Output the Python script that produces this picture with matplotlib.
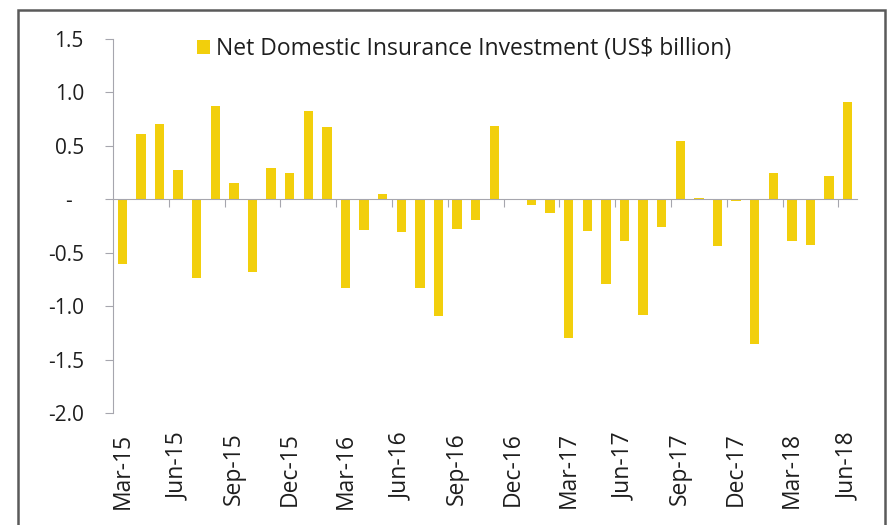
import matplotlib
matplotlib.use("Agg")
import matplotlib.pyplot as plt
from matplotlib.patches import Rectangle
import numpy as np

plt.rcParams['font.family'] = ['Open Sans', 'DejaVu Sans']

# monthly net domestic insurance investment, Mar-15 .. Jun-18
months = ['Mar-15', 'Apr-15', 'May-15', 'Jun-15', 'Jul-15', 'Aug-15', 'Sep-15', 'Oct-15',
          'Nov-15', 'Dec-15', 'Jan-16', 'Feb-16', 'Mar-16', 'Apr-16', 'May-16', 'Jun-16',
          'Jul-16', 'Aug-16', 'Sep-16', 'Oct-16', 'Nov-16', 'Dec-16', 'Jan-17', 'Feb-17',
          'Mar-17', 'Apr-17', 'May-17', 'Jun-17', 'Jul-17', 'Aug-17', 'Sep-17', 'Oct-17',
          'Nov-17', 'Dec-17', 'Jan-18', 'Feb-18', 'Mar-18', 'Apr-18', 'May-18', 'Jun-18']
investment = [-0.61, 0.61, 0.70, 0.27, -0.74, 0.87, 0.15, -0.68,
              0.29, 0.25, 0.83, 0.68, -0.83, -0.29, 0.05, -0.31,
              -0.83, -1.09, -0.28, -0.19, 0.69, 0.0, -0.05, -0.13,
              -1.30, -0.30, -0.79, -0.39, -1.08, -0.26, 0.55, 0.01,
              -0.44, -0.02, -1.35, 0.25, -0.39, -0.43, 0.22, 0.91]
yticks = [1.5, 1.0, 0.5, 0.0, -0.5, -1.0, -1.5, -2.0]
ytick_labels = ['1.5', '1.0', '0.5', '-  ', '-0.5', '-1.0', '-1.5', '-2.0']

bar_color = '#F2CF0C'
axis_color = '#A6A6AE'
text_color = '#1E1E1E'

W, H = 892, 525
fig = plt.figure(figsize=(W / 100, H / 100), dpi=100)
ax = fig.add_axes([113 / W, 1 - 413 / H, (857 - 113) / W, (413 - 39) / H])

x = np.arange(len(months))
bars = ax.bar(x, investment, width=0.5, color=bar_color,
              label='Net Domestic Insurance Investment (US$ billion)')

ax.set_xlim(-0.5, len(months) - 0.5)
ax.set_ylim(-2.0, 1.5)

for side in ['top', 'right']:
    ax.spines[side].set_visible(False)
ax.spines['left'].set_color(axis_color)
ax.spines['bottom'].set_color(axis_color)
ax.spines['bottom'].set_position(('data', 0))

# tick marks between every third category, on the zero line
ax.set_xticks(np.arange(2.5, len(months) - 1, 3))
ax.tick_params(axis='x', length=6, color=axis_color, labelbottom=False)

ax.set_yticks(yticks)
ax.set_yticklabels(ytick_labels)
ax.tick_params(axis='y', length=6, color=axis_color, labelsize=15,
               labelcolor=text_color, pad=15)

# month labels along the bottom edge
sec = ax.secondary_xaxis(0)
sec.set_xticks(x[::3])
sec.set_xticklabels(months[::3], rotation=90)
sec.spines['bottom'].set_visible(False)
sec.tick_params(length=0, pad=14, labelsize=16.5, labelcolor=text_color)

fig.legend(handles=[bars], loc='center left', bbox_to_anchor=(197 / W, 1 - 49 / H),
           frameon=False, fontsize=16.5, handlelength=0.55, handleheight=0.6,
           handletextpad=0.3, borderpad=0, borderaxespad=0, labelcolor=text_color)

# outer frame
fig.add_artist(Rectangle((18 / W, -0.05), (885 - 18) / W, 1.05 - 10 / H,
                         transform=fig.transFigure, fill=False,
                         edgecolor='#5A5A5A', linewidth=1.8))

fig.savefig('out.png', dpi=100)
